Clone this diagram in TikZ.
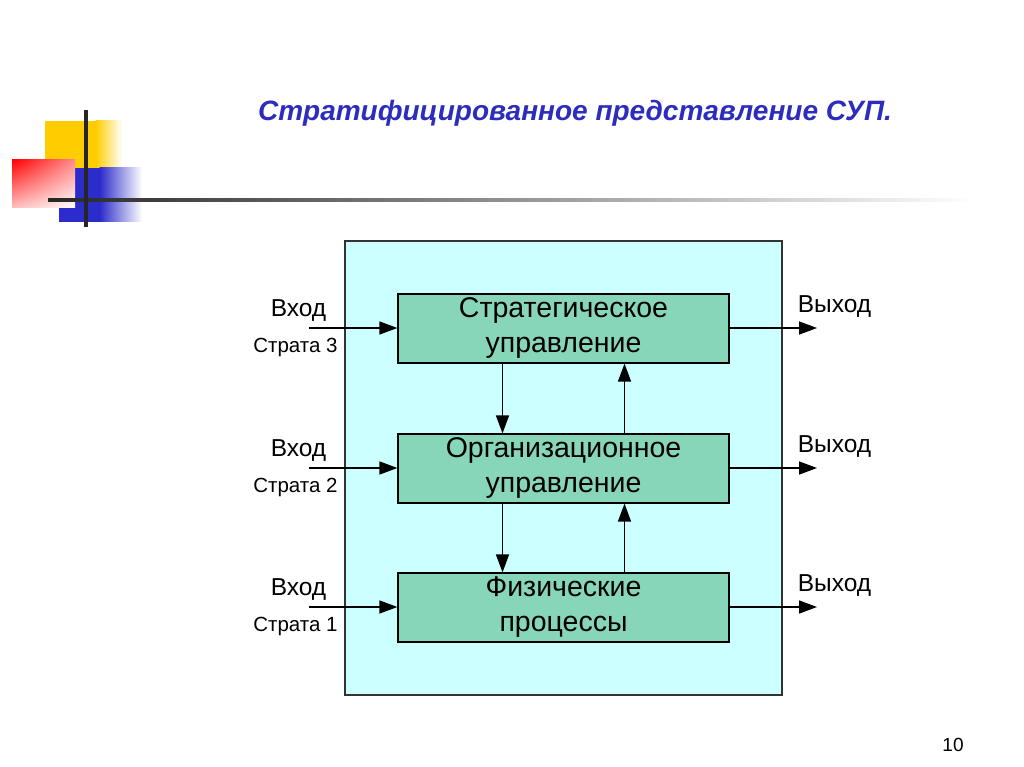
\documentclass[tikz,border=0pt]{standalone}
\usepackage{fontspec}
\setmainfont{Liberation Sans}
\usetikzlibrary{arrows.meta,shadings}
\definecolor{titleblue}{RGB}{44,44,190}
\definecolor{outerfill}{RGB}{204,255,255}
\definecolor{innerfill}{RGB}{136,214,186}
\definecolor{decoyellow}{RGB}{255,204,0}
\definecolor{decoblue}{RGB}{44,44,204}
\tikzset{
  block/.style={draw=black, line width=1.2pt, fill=innerfill, minimum width=331pt, minimum height=69pt, align=center, font=\fontsize{28.5}{35}\selectfont, inner sep=0pt},
  conn/.style={line width=1.5pt, -{Triangle[length=18pt,width=13pt]}},
  inlbl/.style={font=\fontsize{24.5}{28}\selectfont, inner sep=0pt},
  stlbl/.style={font=\fontsize{20.5}{24}\selectfont, inner sep=0pt},
}
\begin{document}
\begin{tikzpicture}[x=1pt,y=-1pt]
\useasboundingbox (0,0) rectangle (1024,767);
\fill[white] (0,0) rectangle (1024,767);
% decoration
\fill[decoyellow] (45,121) rectangle (96,170);
\shade[left color=decoyellow, right color=white] (95.5,121) rectangle (122,170);
\fill[decoblue] (59,168) rectangle (100,222);
\shade[left color=decoblue, right color=white] (99.5,168) rectangle (142,222);
\shade[upper left=red, upper right=red!45!white, lower left=red!25!white, lower right=white] (12,160) rectangle (75,208);
\shade[left color=black!85, right color=white] (48,198.5) rectangle (975,202);
\fill[black!85] (84,110) rectangle (87.5,227);
% title
\node[font=\fontsize{28}{33}\selectfont\bfseries\itshape, text=titleblue] (title) at (575,113) {Стратифицированное представление СУП.};
% outer box
\node[draw=black!80, line width=1.2pt, fill=outerfill, minimum width=437pt, minimum height=454pt, inner sep=0pt] (outer) at (563.5,468) {};
% blocks
\node[block] (b1) at (563.5,328.5) {Стратегическое\\управление};
\node[block] (b2) at (563.5,468.5) {Организационное\\управление};
\node[block] (b3) at (563.5,607.5) {Физические\\процессы};
% vertical arrows
\draw[conn] ([xshift=-61pt]b1.south) -- ([xshift=-61pt]b2.north);
\draw[conn] ([xshift=61pt]b2.north) -- ([xshift=61pt]b1.south);
\draw[conn] ([xshift=-61pt]b2.south) -- ([xshift=-61pt]b3.north);
\draw[conn] ([xshift=61pt]b3.north) -- ([xshift=61pt]b2.south);
% inputs / outputs
\foreach \b/\n/\y in {b1/3/328,b2/2/468,b3/1/607}{
  \coordinate (in\n) at (309,\y);
  \coordinate (out\n) at (817,\y);
  \draw[conn] (in\n) -- (\b.west |- in\n);
  \draw[conn] (\b.east |- out\n) -- (out\n);
  \node[inlbl] (vh\n) at (298.5,\y-17) {Вход};
  \node[stlbl] (st\n) at (295.5,\y+19) {Страта \n};
  \node[inlbl] (vy\n) at (834.5,\y-21) {Выход};
}
\node[font=\fontsize{19}{22}\selectfont] (pg) at (953,745) {10};
\end{tikzpicture}
\end{document}
